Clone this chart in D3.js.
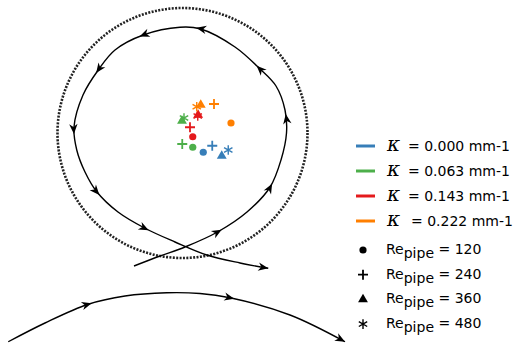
<html>
<head>
    <script src='https://d3js.org/d3.v7.min.js'></script>
</head>
<body style="margin:0; background:white;">

<div id="chart"></div>

<script>

// ---- data (positions in units of the pipe radius, centre = 0,0) ----
var kappas = ["0.000", "0.063", "0.143", "0.222"];
var kappaColors = ["#377eb8", "#4daf4a", "#e41a1c", "#ff7f00"];
var reynolds = [120, 240, 360, 480];
var markerKinds = ["circle", "plus", "triangle", "asterisk"];

// one row per kappa, one entry per Re (120, 240, 360, 480)
var posX = [
    [0.166, 0.238, 0.314, 0.366],
    [0.082, -0.002, -0.004, 0.012],
    [0.082, 0.060, 0.125, 0.122],
    [0.388, 0.252, 0.146, 0.114]
];
var posY = [
    [-0.154, -0.102, -0.184, -0.136],
    [-0.114, -0.088, 0.096, 0.120],
    [-0.030, 0.046, 0.145, 0.136],
    [0.080, 0.232, 0.224, 0.210]
];

// sketched trajectory around the focusing position
var loopX = [-0.388, -0.18, 0.02, 0.284, 0.516, 0.70, 0.788, 0.832, 0.82, 0.748, 0.614, 0.42, 0.14, -0.02,
             -0.314, -0.54, -0.674, -0.796, -0.868, -0.846, -0.78, -0.686, -0.516, -0.30, -0.06, 0.194, 0.46, 0.686];
var loopY = [-1.064, -0.984, -0.912, -0.790, -0.632, -0.434, -0.216, 0.0, 0.184, 0.376, 0.518, 0.688, 0.834, 0.846,
             0.784, 0.664, 0.504, 0.304, 0.048, -0.136, -0.312, -0.47, -0.632, -0.762, -0.872, -0.976, -1.04, -1.082];
var loopArrowX = [0.284, 0.70, 0.82, 0.614, 0.14, -0.314, -0.674, -0.868, -0.686, -0.30];
var loopArrowY = [-0.790, -0.434, 0.118, 0.518, 0.834, 0.784, 0.504, 0.024, -0.47, -0.762];

var arcX = [-1.394, -1.10, -0.754, -0.46, -0.126, 0.14, 0.38, 0.86, 1.30];
var arcY = [-1.67, -1.52, -1.37, -1.304, -1.278, -1.284, -1.318, -1.456, -1.67];
var arcArrowX = [-0.754, 0.38];
var arcArrowY = [-1.37, -1.318];

var width = 514, height = 343;
var cx = 182.5, cy = 133, R = 125;

var svg = d3.select("#chart")
    .append("svg")
    .attr("width", width)
    .attr("height", height)
    .style("font-family", "DejaVu Sans, sans-serif");

var x = d3.scaleLinear().domain([-1, 1]).range([cx - R, cx + R]);
var y = d3.scaleLinear().domain([-1, 1]).range([cy + R, cy - R]);

// pipe wall (dotted circle)
svg.append("circle")
    .attr("cx", x(0))
    .attr("cy", y(0))
    .attr("r", x(1) - x(0))
    .attr("fill", "none")
    .attr("stroke", "#222")
    .attr("stroke-width", 2.6)
    .attr("stroke-dasharray", "2 1.4");

var line = d3.line()
    .x(function(d) { return x(d[0]); })
    .y(function(d) { return y(d[1]); })
    .curve(d3.curveCatmullRom);

var arrowShape = "M0,0 L-10,-4.2 L-7,0 L-10,4.2 Z";

function drawTrajectory(xs, ys, ax, ay) {
    var pts = xs.map(function(v, i) { return [v, ys[i]]; });
    var path = svg.append("path")
        .attr("d", line(pts))
        .attr("fill", "none")
        .attr("stroke", "black")
        .attr("stroke-width", 1.4);
    var node = path.node();
    var total = node.getTotalLength();

    function headAt(len) {
        var p = node.getPointAtLength(len);
        var p0 = node.getPointAtLength(Math.max(0, len - 2));
        var p1 = node.getPointAtLength(Math.min(total, len + 2));
        var ang = Math.atan2(p1.y - p0.y, p1.x - p0.x) * 180 / Math.PI;
        svg.append("path")
            .attr("d", arrowShape)
            .attr("fill", "black")
            .attr("transform", "translate(" + p.x + "," + p.y + ") rotate(" + ang + ")");
    }

    // mid arrows: find the nearest length along the path for each arrow point
    ax.forEach(function(v, i) {
        var tx = x(v), ty = y(ay[i]);
        var best = 0, bestD = Infinity;
        for (var l = 0; l <= total; l += 1) {
            var p = node.getPointAtLength(l);
            var d = (p.x - tx) * (p.x - tx) + (p.y - ty) * (p.y - ty);
            if (d < bestD) { bestD = d; best = l; }
        }
        headAt(Math.min(total, best + 4));
    });
    headAt(total);
}

drawTrajectory(loopX, loopY, loopArrowX, loopArrowY);
drawTrajectory(arcX, arcY, arcArrowX, arcArrowY);

// marker drawing
function drawMarker(g, kind, color) {
    if (kind === "circle") {
        g.append("circle").attr("r", 3.6).attr("fill", color);
    } else if (kind === "plus") {
        g.append("path").attr("d", "M-5,0 L5,0 M0,-5 L0,5")
            .attr("stroke", color).attr("stroke-width", 1.8).attr("fill", "none");
    } else if (kind === "triangle") {
        g.append("path").attr("d", d3.symbol().type(d3.symbolTriangle).size(42)())
            .attr("fill", color);
    } else {
        g.append("path").attr("d", "M0,-4.8 L0,4.8 M-4.2,-2.4 L4.2,2.4 M-4.2,2.4 L4.2,-2.4")
            .attr("stroke", color).attr("stroke-width", 1.4).attr("fill", "none");
    }
}

kappas.forEach(function(k, i) {
    reynolds.forEach(function(re, j) {
        var g = svg.append("g")
            .attr("transform", "translate(" + x(posX[i][j]) + "," + y(posY[i][j]) + ")");
        drawMarker(g, markerKinds[j], kappaColors[i]);
    });
});

// legend: curvature colours
var legK = svg.append("g");
kappas.forEach(function(k, i) {
    var ly = 146 + i * 25;
    legK.append("line")
        .attr("x1", 356).attr("x2", 375)
        .attr("y1", ly).attr("y2", ly)
        .attr("stroke", kappaColors[i])
        .attr("stroke-width", 3);
    legK.append("text")
        .attr("x", 387).attr("y", ly + 5)
        .style("font-family", "DejaVu Serif, serif")
        .style("font-style", "italic")
        .style("font-size", "20px")
        .text("κ");
    legK.append("text")
        .attr("x", i === 3 ? 411 : 408).attr("y", ly + 5)
        .style("font-size", "14px")
        .text("= " + k + " mm-1");
});

// legend: Reynolds markers
var legR = svg.append("g");
reynolds.forEach(function(re, j) {
    var ly = 250 + j * 24.7;
    var g = legR.append("g").attr("transform", "translate(363," + ly + ")");
    drawMarker(g, markerKinds[j], "black");
    var t = legR.append("text")
        .attr("x", 386).attr("y", ly + 4)
        .style("font-size", "14px");
    t.append("tspan").text("Re");
    t.append("tspan").attr("dy", 4).text("pipe");
    t.append("tspan").attr("dy", -4).text(" = " + re);
});

</script>

</body>
</html>
